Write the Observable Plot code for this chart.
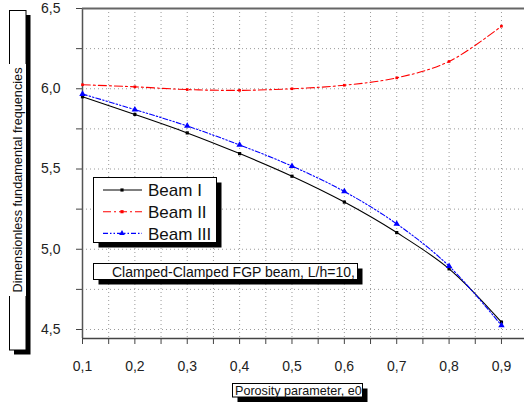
<!DOCTYPE html>
<html>
<head>
<meta charset="utf-8">
<script src="https://cdn.jsdelivr.net/npm/d3@7"></script>
<script src="https://cdn.jsdelivr.net/npm/@observablehq/plot@0.6"></script>
<style>
  body { margin: 0; background: #fff; }
  #chart svg { display: block; }
</style>
</head>
<body>
<div id="chart"></div>
<script>
// ---- data ----
const porosity = [0.1, 0.2, 0.3, 0.4, 0.5, 0.6, 0.7, 0.8, 0.9];
const beamI   = [5.950, 5.840, 5.725, 5.596, 5.455, 5.294, 5.104, 4.878, 4.546];
const beamII  = [6.025, 6.012, 5.995, 5.990, 6.000, 6.022, 6.068, 6.170, 6.390];
const beamIII = [5.967, 5.870, 5.768, 5.650, 5.518, 5.360, 5.158, 4.895, 4.525];
const seriesNames = ["Beam I", "Beam II", "Beam III"];
const xTicks = [0.1, 0.15, 0.2, 0.25, 0.3, 0.35, 0.4, 0.45, 0.5, 0.55, 0.6, 0.65, 0.7, 0.75, 0.8, 0.85, 0.9];
const yTicks = [4.5, 4.75, 5.0, 5.25, 5.5, 5.75, 6.0, 6.25, 6.5];
const titleText = "Clamped-Clamped FGP beam, L/h=10,";
const xLabel = "Porosity parameter, e0";
const yLabel = "Dimensionless fundamental frequencies";

const styles = {
  "Beam I":   {stroke: "#000000", dash: null, symbol: "square", r: 1.8},
  "Beam II":  {stroke: "#ff0000", dash: "8,3,2,3", symbol: "square", r: 1.5},
  "Beam III": {stroke: "#0000ff", dash: "5,2,1.5,2,1.5,2", symbol: "triangle", r: 2.4}
};

const valuesBy = {"Beam I": beamI, "Beam II": beamII, "Beam III": beamIII};
const rows = seriesNames.flatMap(s => porosity.map((p, i) => ({p, v: valuesBy[s][i], s})));

const comma = d => d.toFixed(1).replace(".", ",");
const isHalf = d => Math.abs(d * 2 - Math.round(d * 2)) < 1e-6;
const isTenth = d => Math.abs(d * 10 - Math.round(d * 10)) < 1e-6;

const font = "Liberation Sans, Arial, sans-serif";
const W = 524, H = 405;

const lineMarks = seriesNames.flatMap(s => {
  const st = styles[s];
  const data = rows.filter(r => r.s === s);
  return [
    Plot.line(data, {x: "p", y: "v", curve: "catmull-rom", stroke: st.stroke, strokeWidth: 1.1,
      strokeDasharray: st.dash || undefined}),
    Plot.dot(data, {x: "p", y: "v", symbol: st.symbol, r: st.r, fill: st.stroke, stroke: "none"})
  ];
});

const plot = Plot.plot({
  width: W,
  height: H,
  marginLeft: 82,
  marginTop: 8,
  marginBottom: 67,
  marginRight: 0,
  style: {fontFamily: font, background: "#fff"},
  x: {domain: [0.1, 0.944]},
  y: {domain: [4.444, 6.5]},
  marks: [
    Plot.gridX(xTicks.filter(d => d > 0.1), {stroke: "#9a9a9a", strokeOpacity: 1, strokeDasharray: "1,3"}),
    Plot.gridY(yTicks.filter(d => d < 6.5), {stroke: "#9a9a9a", strokeOpacity: 1, strokeDasharray: "1,3"}),
    Plot.axisY(yTicks, {tickSize: 6, tickPadding: 16, fontSize: 14, fill: "#222", stroke: "#444",
      tickFormat: d => isHalf(d) ? comma(d) : "", label: null}),
    Plot.axisX(xTicks, {tickSize: 6, tickPadding: 17, fontSize: 14, fill: "#222", stroke: "#444",
      tickFormat: d => isTenth(d) ? comma(d) : "", label: null}),
    Plot.ruleX([0.1], {stroke: "#555", strokeWidth: 1.5}),
    Plot.ruleY([4.444], {stroke: "#444", strokeWidth: 1.5}),
    Plot.ruleY([6.5], {stroke: "#666", strokeWidth: 2}),
    ...lineMarks
  ]
});

document.getElementById("chart").appendChild(plot);

// ---- annotation boxes (shadowed, like the original) ----
const svg = d3.select(plot);
const ann = svg.append("g").attr("font-family", font).attr("text-anchor", "start");

function shadowBox(g, x, y, w, h, off = 5) {
  g.append("rect").attr("x", x + off).attr("y", y + off).attr("width", w).attr("height", h).attr("fill", "#000");
  g.append("rect").attr("x", x).attr("y", y).attr("width", w).attr("height", h)
    .attr("fill", "#fff").attr("stroke", "#000").attr("stroke-width", 1);
}

// y-axis label box
const yb = ann.append("g");
shadowBox(yb, 9.5, 10.5, 16.5, 339.5, 4.5);
yb.append("rect").attr("x", 8).attr("y", 64).attr("width", 18).attr("height", 232).attr("fill", "#fff");
yb.append("text").attr("transform", "translate(22,180) rotate(-90)")
  .attr("text-anchor", "middle").attr("font-size", 12.7).attr("fill", "#111").text(yLabel);

// legend
const lg = ann.append("g");
shadowBox(lg, 93.5, 177.5, 123, 65, 5);
seriesNames.forEach((s, i) => {
  const st = styles[s];
  const y = 190 + i * 21.7;
  lg.append("line").attr("x1", 103).attr("x2", 142).attr("y1", y).attr("y2", y)
    .attr("stroke", st.stroke).attr("stroke-width", 1.1).attr("stroke-dasharray", st.dash);
  const sym = d3.symbol(st.symbol === "square" ? d3.symbolSquare : d3.symbolTriangle, st.symbol === "square" ? 10 : 14);
  lg.append("path").attr("transform", `translate(122,${y})`).attr("d", sym()).attr("fill", st.stroke);
  lg.append("text").attr("x", 148).attr("y", y).attr("dy", "0.36em").attr("font-size", 17)
    .attr("text-anchor", "start").attr("fill", "#111").text(s);
});

// title box
const tb = ann.append("g");
shadowBox(tb, 93.5, 263.5, 264, 16, 5);
tb.append("text").attr("x", 112).attr("y", 271.5).attr("dy", "0.36em").attr("font-size", 14)
  .attr("text-anchor", "start").attr("fill", "#111").text(titleText);

// x-axis label box
const xb = ann.append("g");
shadowBox(xb, 232.5, 383.5, 130, 13.5, 5);
xb.append("text").attr("x", 235).attr("y", 390.5).attr("dy", "0.36em").attr("font-size", 12.6)
  .attr("text-anchor", "start").attr("fill", "#111").text(xLabel);
</script>
</body>
</html>
